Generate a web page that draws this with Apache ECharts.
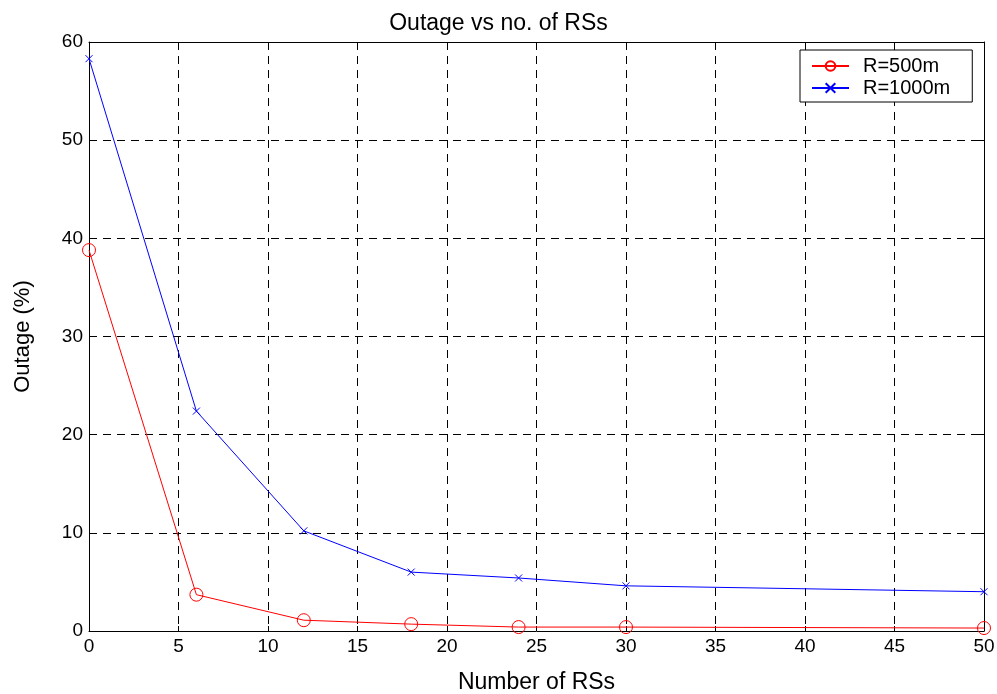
<!DOCTYPE html>
<html><head><meta charset="utf-8">
<script src="https://cdn.jsdelivr.net/npm/echarts@6/dist/echarts.min.js"></script>
<style>html,body{margin:0;padding:0;background:#fff}#c{width:997px;height:694px}</style>
</head><body><div id="c"></div>
<script>
var xValues = [0, 6, 12, 18, 24, 30, 50];
var r500 = [38.8, 3.7, 1.1, 0.7, 0.4, 0.4, 0.3];
var r1000 = [58.3, 22.4, 10.2, 6.0, 5.4, 4.6, 4.0];
var seriesNames = ['R=500m', 'R=1000m'];
var titleText = 'Outage vs no. of RSs';
var xLabel = 'Number of RSs';
var yLabel = 'Outage (%)';

function pairs(xs, ys){ return xs.map(function(x,i){ return [x, ys[i]]; }); }
var font = 'Liberation Sans, Arial, sans-serif';
var crossPath = 'path://M0 0L10 10M10 0L0 10';
var chart = echarts.init(document.getElementById('c'));
var axisCommon = {
  axisLine: {show: true, onZero: false, lineStyle: {color: '#000', width: 1}},
  axisTick: {show: true, inside: true, length: 5, lineStyle: {color: '#000'}},
  splitLine: {show: false}
};
chart.setOption({
  animation: false,
  backgroundColor: '#fff',
  title: {text: titleText, left: 'center', top: 7, textStyle: {fontSize: 23, fontWeight: 'normal', color: '#000', fontFamily: font}},
  grid: {left: 89, right: 13, top: 42, bottom: 63, containLabel: false, outerBoundsMode: 'none'},
  legend: {
    left: 800, top: 50, orient: 'vertical', backgroundColor: '#fff',
    borderColor: '#000', borderWidth: 1, borderRadius: 0, padding: [6, 22, 4, 11],
    itemWidth: 37, itemHeight: 12, itemGap: 2,
    textStyle: {fontSize: 20, color: '#000', fontFamily: font, padding: [0, 0, 0, 9]},
    data: seriesNames
  },
  xAxis: [
    Object.assign({type: 'value', min: 0, max: 50, interval: 5, name: xLabel, nameLocation: 'middle', nameGap: 40,
      nameTextStyle: {fontSize: 23, color: '#000', fontFamily: font}}, axisCommon, {
      axisLabel: {color: '#000', fontSize: 19, fontFamily: font, margin: 6},
      splitLine: {show: true, lineStyle: {color: '#000', type: [8, 6], width: 1}}}),
    Object.assign({type: 'value', min: 0, max: 50, interval: 5, position: 'top'}, axisCommon, {axisLabel: {show: false}})
  ],
  yAxis: [
    Object.assign({type: 'value', min: 0, max: 60, interval: 10, name: yLabel, nameLocation: 'middle', nameGap: 55,
      nameTextStyle: {fontSize: 22, color: '#000', fontFamily: font}}, axisCommon, {
      axisLabel: {color: '#000', fontSize: 19, fontFamily: font, margin: 6},
      splitLine: {show: true, lineStyle: {color: '#000', type: [8, 6], width: 1}}}),
    Object.assign({type: 'value', min: 0, max: 60, interval: 10, position: 'right'}, axisCommon, {axisLabel: {show: false}})
  ],
  series: [
    {name: seriesNames[0], type: 'line', data: pairs(xValues, r500), symbol: 'circle', symbolSize: 13,
      lineStyle: {color: '#ff0000', width: 1}, itemStyle: {color: 'rgba(0,0,0,0)', borderColor: '#ff0000', borderWidth: 1}},
    {name: seriesNames[1], type: 'line', data: pairs(xValues, r1000), symbol: crossPath, symbolSize: 7,
      lineStyle: {color: '#0000ff', width: 1}, itemStyle: {color: '#0000ff', borderColor: '#0000ff', borderWidth: 1}}
  ]
});
</script></body></html>
